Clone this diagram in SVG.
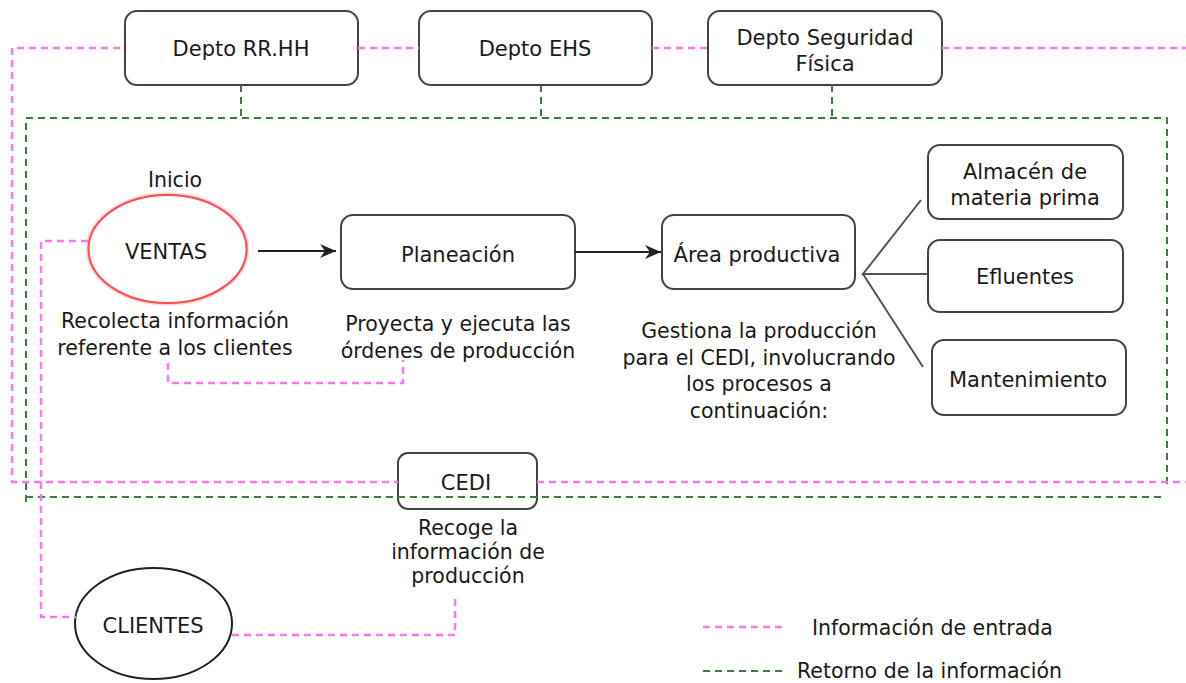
<svg xmlns="http://www.w3.org/2000/svg" width="1186" height="683" viewBox="0 0 1186 683">
<style>
text{font-family:"DejaVu Sans","Liberation Sans",sans-serif;font-size:21px;fill:#1a1a1a;text-anchor:middle}
.lbl{font-size:20.5px}
.start{text-anchor:start}
.box{fill:#fff;stroke:#444;stroke-width:2}
.pinkh{fill:none;stroke:#ff77ee;stroke-width:2.5;stroke-dasharray:7 5}
.greenh{fill:none;stroke:#3d7a3d;stroke-width:2;stroke-dasharray:7 5}
.flow{fill:none;stroke:#222;stroke-width:2}
.branch{fill:none;stroke:#555;stroke-width:2}
</style>
<defs>
<marker id="arr" markerUnits="userSpaceOnUse" markerWidth="18" markerHeight="16" refX="16" refY="8" orient="auto">
<path d="M0,1 L16,8 L0,15 L5,8 z" fill="#222"/>
</marker>
<filter id="glow" x="-20%" y="-20%" width="140%" height="140%">
<feGaussianBlur stdDeviation="1.2"/>
</filter>
</defs>
<rect width="1186" height="683" fill="#fff"/>

<g id="rrhh"><rect class="box" x="125" y="11" width="233" height="74" rx="12"/><text x="241" y="55.5">Depto RR.HH</text></g>
<g id="ehs"><rect class="box" x="419" y="11" width="233" height="74" rx="12"/><text x="535" y="55.5">Depto EHS</text></g>
<g id="seguridad"><rect class="box" x="708" y="11" width="234" height="74" rx="12"/><text x="825" y="44.5">Depto Seguridad</text><text x="825" y="70.5">Física</text></g>

<g id="ventas">
<ellipse cx="167.5" cy="249" rx="79" ry="54" fill="none" stroke="#ff9999" stroke-width="3" filter="url(#glow)"/>
<ellipse cx="167.5" cy="249" rx="79" ry="54" fill="#fff" stroke="#ff4d4d" stroke-width="2"/>
<text x="166" y="258.5">VENTAS</text>
<text class="lbl" x="175" y="186.5">Inicio</text>
<text class="lbl" x="175" y="327.5">Recolecta información</text>
<text class="lbl" x="175" y="354.5">referente a los clientes</text>
</g>
<g id="planeacion"><rect class="box" x="341" y="215" width="234" height="74" rx="12"/><text x="458" y="261.5">Planeación</text>
<text class="lbl" x="458" y="330.5">Proyecta y ejecuta las</text>
<text class="lbl" x="458" y="357.5">órdenes de producción</text></g>
<g id="area"><rect class="box" x="662" y="215" width="193" height="74" rx="12"/><text x="757" y="261.5">Área productiva</text>
<text class="lbl" x="759" y="337.5">Gestiona la producción</text>
<text class="lbl" x="759" y="364.5">para el CEDI, involucrando</text>
<text class="lbl" x="759" y="390.5">los procesos a</text>
<text class="lbl" x="759" y="417.5">continuación:</text></g>
<g id="almacen"><rect class="box" x="928" y="145" width="195" height="74" rx="12"/><text x="1025" y="178.5">Almacén de</text><text x="1025" y="204.5">materia prima</text></g>
<g id="efluentes"><rect class="box" x="928" y="240" width="195" height="72" rx="12"/><text x="1025" y="283.5">Efluentes</text></g>
<g id="mantenimiento"><rect class="box" x="932" y="340" width="194" height="75" rx="12"/><text x="1028" y="386.5">Mantenimiento</text></g>
<g id="cedi"><rect class="box" x="398" y="453" width="139" height="56" rx="10"/><text x="466" y="489.5">CEDI</text>
<text class="lbl" x="468" y="534.5">Recoge la</text>
<text class="lbl" x="468" y="558.5">información de</text>
<text class="lbl" x="468" y="582.5">producción</text></g>
<g id="clientes"><ellipse cx="153.5" cy="623.5" rx="78.5" ry="55.5" fill="#fff" stroke="#222" stroke-width="2"/><text x="153" y="632.5">CLIENTES</text></g>

<g id="connectors">
<path class="greenh" d="M26,502 V118 H1167 V488"/>
<path class="greenh" d="M26,497 H1166"/>
<path class="greenh" d="M241,85 V118 M541,85 V118 M832,85 V118"/>
<path class="pinkh" d="M120,48 H12 V482 H398"/>
<path class="pinkh" d="M358,48 H419 M652,48 H708 M942,48 H1186 M537,482 H1186"/>
<path class="pinkh" d="M88,241 H41 V617 H76"/>
<path class="pinkh" d="M232,635 H455 V598"/>
<path class="pinkh" d="M168,363 V383 H403 V360"/>
<line class="flow" x1="258" y1="251" x2="336" y2="251" marker-end="url(#arr)"/>
<line class="flow" x1="575" y1="252" x2="661" y2="252" marker-end="url(#arr)"/>
<path class="branch" d="M921,200 L863,274 L928,274 M863,274 L923,367"/>
</g>

<g id="legend">
<path class="pinkh" d="M703,627 H787"/>
<text class="lbl start" x="812" y="635">Información de entrada</text>
<path class="greenh" d="M703,671 H786"/>
<text class="lbl start" x="797" y="678">Retorno de la información</text>
</g>
</svg>
